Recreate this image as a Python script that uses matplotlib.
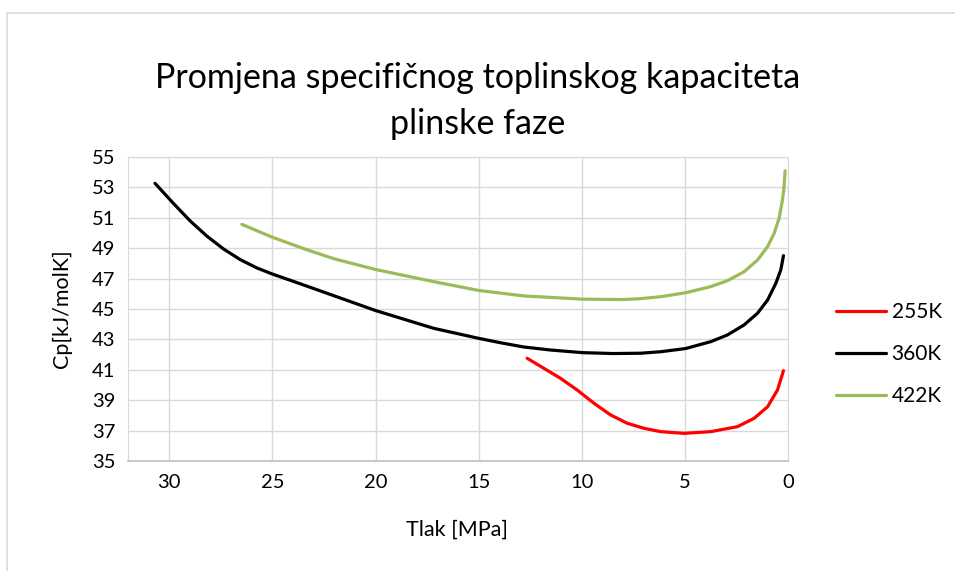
import matplotlib
matplotlib.use("Agg")
import matplotlib.pyplot as plt
from matplotlib.patches import Rectangle

plt.rcParams['font.family'] = ['Lato', 'DejaVu Sans']

# Data (pressure MPa, Cp kJ/molK)
p_255 = [12.65, 11.84, 11.03, 10.22, 9.41, 8.60, 7.79, 6.98, 6.17, 5.04, 3.75, 2.45, 1.64, 0.99, 0.51, 0.22]
cp_255 = [41.76, 41.10, 40.44, 39.67, 38.80, 38.03, 37.48, 37.15, 36.93, 36.82, 36.93, 37.26, 37.81, 38.57, 39.67, 40.94]

p_360 = [30.69, 29.80, 28.99, 28.18, 27.37, 26.56, 25.75, 25.00, 23.65, 22.03, 20.00, 17.18, 15.00, 13.94, 12.81,
         11.50, 9.98, 8.50, 7.15, 6.17, 4.96, 3.75, 2.94, 2.13, 1.48, 0.99, 0.59, 0.35, 0.22]
cp_360 = [53.27, 51.95, 50.80, 49.80, 48.95, 48.25, 47.70, 47.30, 46.66, 45.88, 44.90, 43.73, 43.07, 42.78, 42.50,
          42.30, 42.13, 42.07, 42.09, 42.19, 42.40, 42.85, 43.29, 43.95, 44.72, 45.59, 46.69, 47.57, 48.51]

p_422 = [26.48, 25.00, 23.33, 22.00, 20.00, 17.18, 15.00, 12.81, 10.00, 8.00, 7.15, 6.17, 4.96, 3.75, 2.94, 2.13,
         1.48, 0.99, 0.67, 0.43, 0.27, 0.19, 0.14]
cp_422 = [50.57, 49.72, 48.90, 48.30, 47.60, 46.80, 46.22, 45.86, 45.65, 45.62, 45.68, 45.81, 46.07, 46.47, 46.86, 47.45,
          48.22, 49.10, 49.98, 50.97, 52.17, 53.05, 54.10]

x_ticks = [30, 25, 20, 15, 10, 5, 0]
y_ticks = list(range(35, 56, 2))

fig = plt.figure(figsize=(9.55, 5.71), dpi=100)
ax = fig.add_axes([128/955, 1-461/571, (788-128)/955, (461-157)/571])

ax.plot(p_255, cp_255, color='#FF0000', lw=2.3, label='255K', solid_capstyle='round', solid_joinstyle='round')
ax.plot(p_360, cp_360, color='#000000', lw=2.3, label='360K', solid_capstyle='round', solid_joinstyle='round')
ax.plot(p_422, cp_422, color='#9BBB59', lw=2.3, label='422K', solid_capstyle='round', solid_joinstyle='round')

ax.set_xlim(32, 0)
ax.set_ylim(35, 55)
ax.set_xticks(x_ticks)
ax.set_yticks(y_ticks)
ax.grid(True, color='#D9D9D9', lw=1.0)
ax.set_axisbelow(True)
ax.tick_params(length=0, labelsize=14.5, pad=9)
for s in ['top', 'right', 'left']:
    ax.spines[s].set_color('#D9D9D9')
ax.spines['bottom'].set_color('#BFBFBF')
ax.spines['bottom'].set_linewidth(1.2)

ax.set_xlabel('Tlak [MPa]', fontsize=15.5, va='center')
ax.xaxis.set_label_coords((457-128)/(788-128), (461-530)/(461-157))
ax.set_ylabel('Cp[kJ/molK]', fontsize=15.5, va='center')
ax.yaxis.set_label_coords((62-128)/(788-128), 0.5)

fig.text(478/955, 1-78/571, 'Promjena specifičnog toplinskog kapaciteta', ha='center', va='center', fontsize=24.5)
fig.text(478/955, 1-124/571, 'plinske faze', ha='center', va='center', fontsize=24.5)

leg = ax.legend(loc='center left', bbox_to_anchor=(828/955, 1-354/571), bbox_transform=fig.transFigure,
                frameon=False, fontsize=15, handlelength=2.4, handletextpad=0.25, labelspacing=1.05, borderaxespad=0)

fig.patches.append(Rectangle((7/955, -0.1), 2.0, 1-13/571+0.1, transform=fig.transFigure,
                             fill=False, edgecolor='#D9D9D9', lw=1.2))

fig.savefig('out.png', dpi=100)
